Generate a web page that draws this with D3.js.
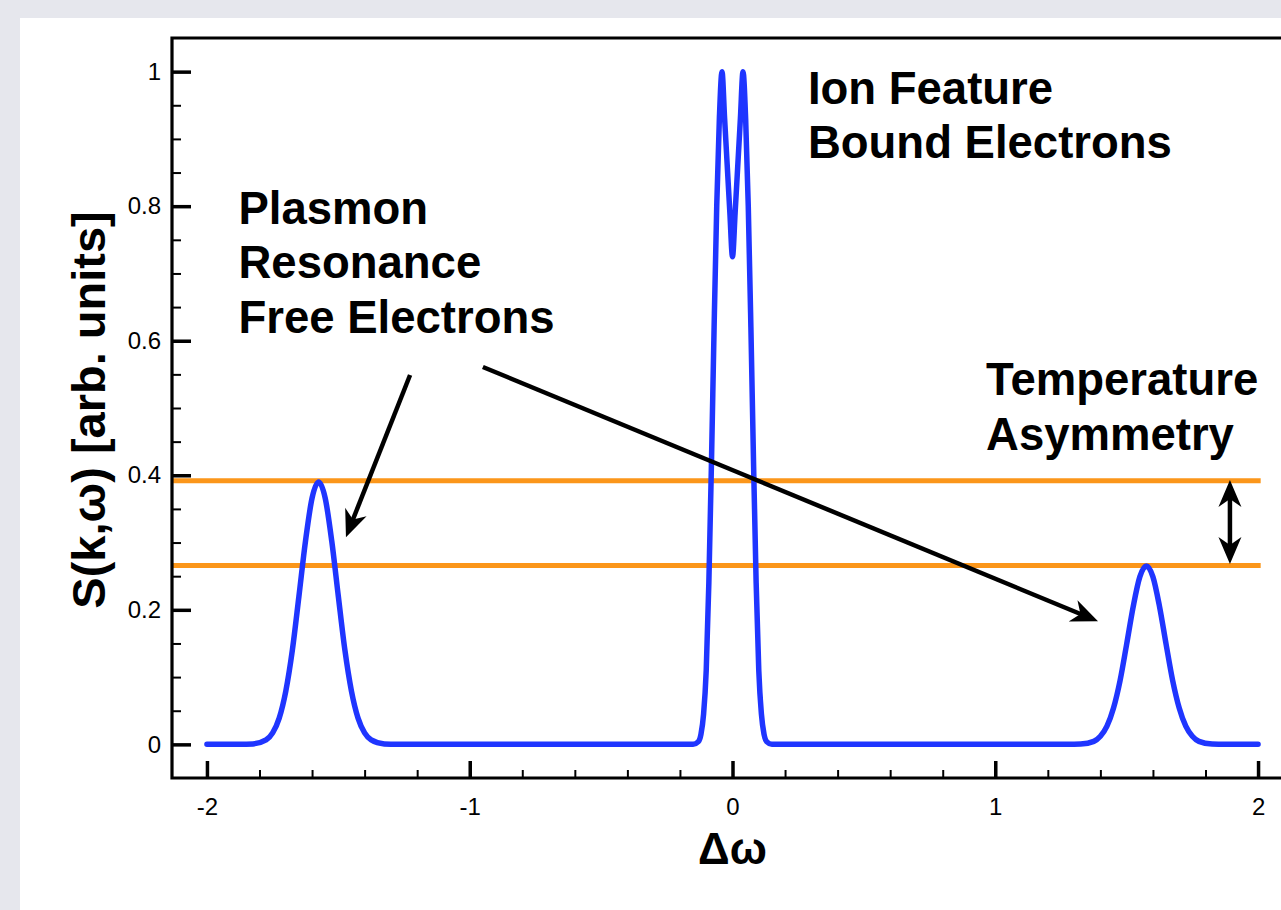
<!DOCTYPE html>
<html><head><meta charset="utf-8">
<script src="https://cdn.jsdelivr.net/npm/d3@7"></script>
<style>html,body{margin:0;padding:0;background:#e6e7ed;overflow:hidden}svg{display:block}</style>
</head><body><svg id="c" width="1281" height="910"></svg>
<script>
// ---- data ----
const curveX = [-2, -1.95, -1.9, -1.875, -1.825, -1.775, -1.75, -1.725, -1.70, -1.675, -1.65, -1.625, -1.60, -1.575, -1.55, -1.525, -1.50, -1.475, -1.45, -1.425, -1.40, -1.375, -1.325, -1.275, -1.2, -1.0, -0.8, -0.6, -0.4, -0.2, -0.15, -0.13, -0.12, -0.11, -0.10, -0.09, -0.08, -0.07, -0.06, -0.05, -0.04, -0.03, -0.02, -0.01, 0, 0.01, 0.02, 0.03, 0.04, 0.05, 0.06, 0.07, 0.08, 0.09, 0.10, 0.11, 0.12, 0.13, 0.15, 0.2, 0.4, 0.6, 0.8, 1.0, 1.2, 1.275, 1.325, 1.375, 1.40, 1.425, 1.45, 1.475, 1.50, 1.525, 1.55, 1.575, 1.60, 1.625, 1.65, 1.675, 1.70, 1.725, 1.75, 1.775, 1.825, 1.875, 1.9, 1.95, 2.0];
const curveY = [0, 0, 0, 0, 0.0007, 0.0066, 0.017, 0.039, 0.079, 0.140, 0.220, 0.302, 0.366, 0.390, 0.366, 0.302, 0.220, 0.140, 0.079, 0.039, 0.017, 0.0066, 0.0007, 0, 0, 0, 0, 0, 0, 0, 0, 0.004, 0.015, 0.045, 0.11, 0.24, 0.42, 0.62, 0.80, 0.93, 1.0, 0.93, 0.86, 0.79, 0.725, 0.79, 0.86, 0.93, 1.0, 0.93, 0.80, 0.62, 0.42, 0.24, 0.11, 0.045, 0.015, 0.004, 0, 0, 0, 0, 0, 0, 0, 0, 0.0005, 0.0045, 0.012, 0.027, 0.054, 0.095, 0.149, 0.205, 0.249, 0.265, 0.249, 0.205, 0.149, 0.095, 0.054, 0.027, 0.012, 0.0045, 0.0005, 0, 0, 0, 0];
const levelValues = [0.392, 0.266];
const xMajorTicks = [-2, -1, 0, 1, 2];
const xTickLabels = ["-2", "-1", "0", "1", "2"];
const xMinorTicks = [-1.8, -1.6, -1.4, -1.2, -0.8, -0.6, -0.4, -0.2, 0.2, 0.4, 0.6, 0.8, 1.2, 1.4, 1.6, 1.8];
const yMajorTicks = [0, 0.2, 0.4, 0.6, 0.8, 1];
const yTickLabels = ["0", "0.2", "0.4", "0.6", "0.8", "1"];
const yMinorTicks = [0.05, 0.1, 0.15, 0.25, 0.3, 0.35, 0.45, 0.5, 0.55, 0.65, 0.7, 0.75, 0.85, 0.9, 0.95];
const xTitle = "Δω";
const yTitle = "S(k,ω) [arb. units]";
// annotations in data units
const annotationLines = [
  {lines: ["Ion Feature", "Bound Electrons"], x: 0.287, y: 0.952},
  {lines: ["Plasmon", "Resonance", "Free Electrons"], x: -1.880, y: 0.774},
  {lines: ["Temperature", "Asymmetry"], x: 0.965, y: 0.519}
];
const arrows = [
  {x1: -1.227, y1: 0.549, x2: -1.471, y2: 0.308, both: false},
  {x1: -0.950, y1: 0.561, x2: 1.391, y2: 0.183, both: false},
  {x1: 1.893, y1: 0.268, x2: 1.893, y2: 0.393, both: true}
];

// ---- layout ----
const svg = d3.select("#c");
const W = 1281, H = 910;
svg.append("rect").attr("x", 0).attr("y", 0).attr("width", W).attr("height", H).attr("fill", "#e6e7ed");
svg.append("rect").attr("x", 20).attr("y", 18).attr("width", W - 20).attr("height", H - 18).attr("fill", "#ffffff");

const x = d3.scaleLinear().domain([-2.133, 2.133]).range([172, 1293]);
const y = d3.scaleLinear().domain([-0.05, 1.05]).range([778, 38]);
const font = "'Liberation Sans', Arial, Helvetica, sans-serif";

// orange level lines
svg.append("g").selectAll("line").data(levelValues).join("line")
  .attr("x1", x(-2.133)).attr("x2", x(2.01))
  .attr("y1", d => y(d)).attr("y2", d => y(d))
  .attr("stroke", "#fb961a").attr("stroke-width", 5);

// curve
const pts = curveX.map((v, i) => [v, curveY[i]]);
svg.append("path").datum(pts)
  .attr("fill", "none").attr("stroke", "#1f35ff").attr("stroke-width", 5.5)
  .attr("stroke-linecap", "round").attr("stroke-linejoin", "round")
  .attr("d", d3.line().x(d => x(d[0])).y(d => y(d[1])).curve(d3.curveMonotoneX));

// axes
const gx = svg.append("g").attr("transform", `translate(0,${y(-0.05)})`)
  .call(d3.axisBottom(x).tickValues(xMajorTicks).tickFormat((d, i) => xTickLabels[i]).tickSize(-17).tickPadding(21));
const gxm = svg.append("g").attr("transform", `translate(0,${y(-0.05)})`)
  .call(d3.axisBottom(x).tickValues(xMinorTicks).tickFormat("").tickSize(-8));
const gy = svg.append("g").attr("transform", `translate(${x(-2.133)},0)`)
  .call(d3.axisLeft(y).tickValues(yMajorTicks).tickFormat((d, i) => yTickLabels[i]).tickSize(-19).tickPadding(11));
const gym = svg.append("g").attr("transform", `translate(${x(-2.133)},0)`)
  .call(d3.axisLeft(y).tickValues(yMinorTicks).tickFormat("").tickSize(-9));
[gx, gxm, gy, gym].forEach(g => g.select(".domain").remove());
[gx, gy].forEach(g => g.selectAll(".tick line").attr("stroke", "#000").attr("stroke-width", 3.5));
[gxm, gym].forEach(g => g.selectAll(".tick line").attr("stroke", "#000").attr("stroke-width", 2));
[gx, gy].forEach(g => g.selectAll(".tick text").attr("font-family", font).attr("font-size", 24).attr("fill", "#000"));
gx.selectAll(".tick text").attr("dy", "0.71em").attr("y", 20);

// frame
const fx0 = x(-2.133), fx1 = x(2.133), fy0 = y(1.05), fy1 = y(-0.05);
svg.append("path").attr("d", `M${fx0},${fy0}H${fx1}V${fy1}H${fx0}Z`)
  .attr("fill", "none").attr("stroke", "#000").attr("stroke-width", 3.2);

// titles
svg.append("text").attr("x", x(0)).attr("y", 864).attr("text-anchor", "middle")
  .attr("font-family", font).attr("font-weight", "bold").attr("font-size", 44).text(xTitle);
svg.append("text").attr("transform", `translate(105,${410}) rotate(-90)`).attr("text-anchor", "middle")
  .attr("font-family", font).attr("font-weight", "bold").attr("font-size", 47).text(yTitle);

// annotation text
annotationLines.forEach(a => {
  const t = svg.append("text").attr("font-family", font).attr("font-weight", "bold").attr("font-size", 45.5).attr("fill", "#000");
  a.lines.forEach((s, i) => t.append("tspan").attr("x", x(a.x)).attr("y", y(a.y) + i * 54.5).text(s));
});

// arrows
function head(px, py, ang) {
  const L = 27, Wd = 11.5, notch = 19;
  const c = Math.cos(ang), s = Math.sin(ang);
  const p = (a, b) => [px + a * c - b * s, py + a * s + b * c];
  return [p(0, 0), p(-L, -Wd), p(-notch, 0), p(-L, Wd)];
}
arrows.forEach(a => {
  const X1 = x(a.x1), Y1 = y(a.y1), X2 = x(a.x2), Y2 = y(a.y2);
  const ang = Math.atan2(Y2 - Y1, X2 - X1);
  const sh = 15;
  const sx = a.both ? X1 + Math.cos(ang) * sh : X1, sy = a.both ? Y1 + Math.sin(ang) * sh : Y1;
  const ex = X2 - Math.cos(ang) * sh, ey = Y2 - Math.sin(ang) * sh;
  svg.append("line").attr("x1", sx).attr("y1", sy)
    .attr("x2", ex).attr("y2", ey).attr("stroke", "#000").attr("stroke-width", 4.5);
  svg.append("polygon").attr("points", head(X2, Y2, ang).join(" ")).attr("fill", "#000");
  if (a.both) svg.append("polygon").attr("points", head(X1, Y1, ang + Math.PI).join(" ")).attr("fill", "#000");
});
</script></body></html>
